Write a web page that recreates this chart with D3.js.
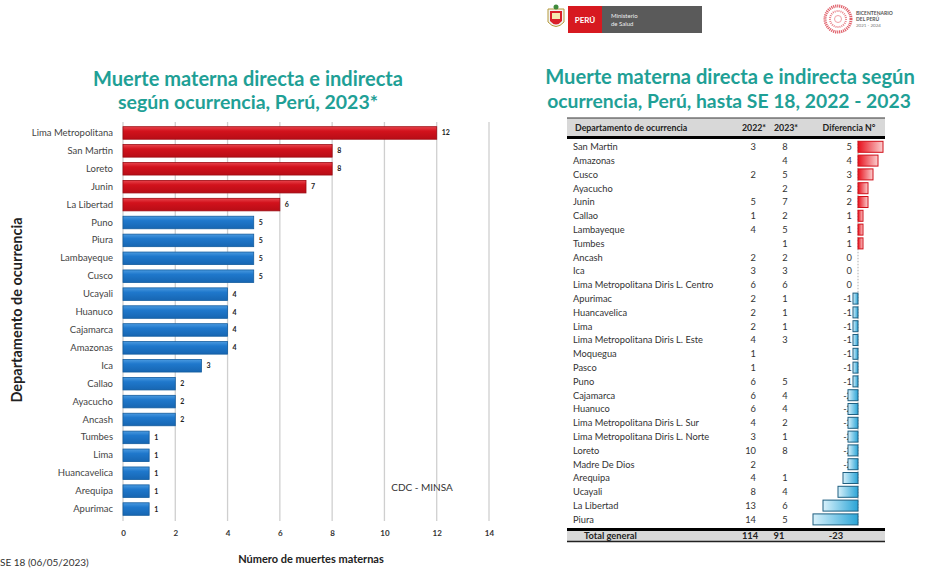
<!DOCTYPE html>
<html>
<head>
<meta charset="utf-8">
<script src="https://cdn.jsdelivr.net/npm/d3@7"></script>
<style>
  html, body { margin: 0; padding: 0; background: #fff; }
  svg { display: block; font-family: Lato, "Open Sans", sans-serif; }
</style>
</head>
<body>
<svg id="chart" width="941" height="570"></svg>
<script>
// ---- Bar chart: deaths by department, 2023 ----
const departments = ["Lima Metropolitana", "San Martin", "Loreto", "Junin", "La Libertad",
  "Puno", "Piura", "Lambayeque", "Cusco", "Ucayali", "Huanuco", "Cajamarca", "Amazonas",
  "Ica", "Callao", "Ayacucho", "Ancash", "Tumbes", "Lima", "Huancavelica", "Arequipa", "Apurimac"];
const deaths2023 = [12, 8, 8, 7, 6, 5, 5, 5, 5, 4, 4, 4, 4, 3, 2, 2, 2, 1, 1, 1, 1, 1];
const xTicks = [0, 2, 4, 6, 8, 10, 12, 14];

// ---- Table: comparison up to epi week 18 ----
const tableDepts = ["San Martin", "Amazonas", "Cusco", "Ayacucho", "Junin", "Callao", "Lambayeque",
  "Tumbes", "Ancash", "Ica", "Lima Metropolitana   Diris L. Centro", "Apurimac", "Huancavelica",
  "Lima", "Lima Metropolitana   Diris L. Este", "Moquegua", "Pasco", "Puno", "Cajamarca", "Huanuco",
  "Lima Metropolitana   Diris L. Sur", "Lima Metropolitana   Diris L. Norte", "Loreto",
  "Madre De Dios", "Arequipa", "Ucayali", "La Libertad", "Piura"];
const cases2022 = [3, null, 2, null, 5, 1, 4, null, 2, 3, 6, 2, 2, 2, 4, 1, 1, 6, 6, 6, 4, 3, 10, 2, 4, 8, 13, 14];
const cases2023 = [8, 4, 5, 2, 7, 2, 5, 1, 2, 3, 6, 1, 1, 1, 3, null, null, 5, 4, 4, 2, 1, 8, null, 1, 4, 6, 5];
const difference = [5, 4, 3, 2, 2, 1, 1, 1, 0, 0, 0, -1, -1, -1, -1, -1, -1, -1, -2, -2, -2, -2, -2, -2, -3, -4, -7, -9];
const totals = { label: "Total general", y2022: 114, y2023: 91, diff: -23 };

const teal = "#1fa096";
const svg = d3.select("#chart");
const defs = svg.append("defs");

function fitText(sel, width) {
  const fs = parseFloat(sel.attr("font-size"));
  const w = sel.node().getComputedTextLength();
  sel.attr("font-size", (fs * width / w).toFixed(2));
}

// gradients for bars
function vGrad(id, top, mid, bot) {
  const g = defs.append("linearGradient").attr("id", id).attr("x1", 0).attr("y1", 0).attr("x2", 0).attr("y2", 1);
  g.append("stop").attr("offset", "0%").attr("stop-color", top);
  g.append("stop").attr("offset", "35%").attr("stop-color", mid);
  g.append("stop").attr("offset", "100%").attr("stop-color", bot);
}
vGrad("redBar", "#e8454d", "#d2121c", "#b80d16");
vGrad("blueBar", "#4a9ae0", "#1f78cc", "#1766b2");

function hGrad(id, from, to, reverse) {
  const g = defs.append("linearGradient").attr("id", id)
    .attr("x1", reverse ? 1 : 0).attr("y1", 0).attr("x2", reverse ? 0 : 1).attr("y2", 0);
  g.append("stop").attr("offset", "0%").attr("stop-color", from);
  g.append("stop").attr("offset", "100%").attr("stop-color", to);
}
hGrad("posBar", "#e8101c", "#fbd0d0", false);
hGrad("negBar", "#2aa4d6", "#d8f1fb", true);

// ================= Left: bar chart =================
const left = svg.append("g");

const t1 = left.append("text").attr("x", 248).attr("y", 86).attr("text-anchor", "middle")
  .attr("font-size", 19).attr("font-weight", 700).attr("fill", teal)
  .text("Muerte materna  directa e indirecta");
fitText(t1, 310);
const t2 = left.append("text").attr("x", 248).attr("y", 109).attr("text-anchor", "middle")
  .attr("font-size", 19).attr("font-weight", 700).attr("fill", teal)
  .text("según ocurrencia, Perú, 2023*");
fitText(t2, 260);

const x = d3.scaleLinear().domain([0, 14]).range([123, 489]);
const y = d3.scaleBand().domain(departments).range([124, 518]).paddingInner(0.3).paddingOuter(0.15);

// vertical gridlines
left.append("g").selectAll("line").data(xTicks).join("line")
  .attr("x1", d => x(d)).attr("x2", d => x(d))
  .attr("y1", 122).attr("y2", 521)
  .attr("stroke", "#cfcfcf").attr("stroke-width", 1.3);

// x axis tick labels
const xAxis = d3.axisBottom(x).tickValues(xTicks).tickSize(0).tickPadding(0);
left.append("g").attr("transform", "translate(0,530)").call(xAxis)
  .call(g => g.select(".domain").remove())
  .call(g => g.selectAll("text").attr("font-family", "Lato, sans-serif").attr("font-size", 8)
    .attr("font-weight", 700).attr("fill", "#333"));

// category labels
const yAxis = d3.axisLeft(y).tickSize(0).tickPadding(0);
left.append("g").attr("transform", "translate(113,0)").call(yAxis)
  .call(g => g.select(".domain").remove())
  .call(g => g.selectAll("text").attr("font-family", "Lato, sans-serif").attr("font-size", 9.5)
    .attr("fill", "#444"));

const rows = departments.map((d, i) => ({ name: d, value: deaths2023[i] }));

left.append("g").selectAll("rect").data(rows).join("rect")
  .attr("x", x(0)).attr("y", d => y(d.name))
  .attr("width", d => x(d.value) - x(0)).attr("height", y.bandwidth())
  .attr("fill", d => d.value >= 6 ? "url(#redBar)" : "url(#blueBar)")
  .attr("stroke", d => d.value >= 6 ? "#9c0a12" : "#135c9e").attr("stroke-width", 0.8);

left.append("g").selectAll("text").data(rows).join("text")
  .attr("x", d => x(d.value) + 5).attr("y", d => y(d.name) + y.bandwidth() / 2 + 2.5)
  .attr("font-size", 7).attr("font-weight", 700).attr("fill", "#222")
  .text(d => d.value);

left.append("text").attr("x", 422).attr("y", 491).attr("text-anchor", "middle")
  .attr("font-size", 10).attr("fill", "#333").text("CDC -  MINSA");

left.append("text").attr("transform", "translate(22,310) rotate(-90)").attr("text-anchor", "middle")
  .attr("font-size", 14.5).attr("font-weight", 700).attr("fill", "#222")
  .text("Departamento de ocurrencia");

left.append("text").attr("x", 311).attr("y", 563).attr("text-anchor", "middle")
  .attr("font-size", 11).attr("font-weight", 700).attr("fill", "#222")
  .text("Número de muertes maternas");

left.append("text").attr("x", 0).attr("y", 566)
  .attr("font-size", 10).attr("fill", "#333").text("SE 18 (06/05/2023)");

// ================= Right: logos =================
const logo = svg.append("g");
// coat of arms
logo.append("path").attr("d", "M548,9 L564,9 L564,22 Q556,31 548,22 Z").attr("fill", "#f2f2f2").attr("stroke", "#b59a3a").attr("stroke-width", 1);
logo.append("path").attr("d", "M550,11 L562,11 L562,21 Q556,28 550,21 Z").attr("fill", "#d9202a");
logo.append("rect").attr("x", 552).attr("y", 13).attr("width", 8).attr("height", 6).attr("fill", "#f5e9b0");
logo.append("circle").attr("cx", 556).attr("cy", 7).attr("r", 2.5).attr("fill", "#3f8a3b");
logo.append("rect").attr("x", 568).attr("y", 6).attr("width", 34).attr("height", 27).attr("fill", "#d71920");
logo.append("text").attr("x", 585).attr("y", 23).attr("text-anchor", "middle")
  .attr("font-size", 8).attr("font-weight", 700).attr("fill", "#fff").text("PERÚ");
logo.append("rect").attr("x", 602).attr("y", 6).attr("width", 100).attr("height", 27).attr("fill", "#5a5a5a");
logo.append("text").attr("x", 611).attr("y", 18).attr("font-size", 6).attr("fill", "#eee").text("Ministerio");
logo.append("text").attr("x", 611).attr("y", 26).attr("font-size", 6).attr("fill", "#eee").text("de Salud");

// bicentennial emblem
const bc = logo.append("g").attr("transform", "translate(838,19)");
bc.append("circle").attr("r", 13).attr("fill", "none").attr("stroke", "#e0606a").attr("stroke-width", 3).attr("stroke-dasharray", "1.2 0.8");
bc.append("circle").attr("r", 8).attr("fill", "none").attr("stroke", "#e88088").attr("stroke-width", 2).attr("stroke-dasharray", "1 1");
bc.append("circle").attr("r", 3.5).attr("fill", "#fff").attr("stroke", "#f0a0a6").attr("stroke-width", 1);
logo.append("text").attr("x", 856).attr("y", 15).attr("font-size", 5).attr("font-weight", 700).attr("fill", "#555").text("BICENTENARIO");
logo.append("text").attr("x", 856).attr("y", 21).attr("font-size", 5).attr("font-weight", 700).attr("fill", "#555").text("DEL PERÚ");
logo.append("text").attr("x", 856).attr("y", 27).attr("font-size", 4.5).attr("fill", "#777").text("2021 - 2024");

// ================= Right: title =================
const r1 = svg.append("text").attr("x", 730).attr("y", 84).attr("text-anchor", "middle")
  .attr("font-size", 19).attr("font-weight", 700).attr("fill", teal)
  .text("Muerte materna  directa e indirecta según");
fitText(r1, 370);
const r2 = svg.append("text").attr("x", 729).attr("y", 108).attr("text-anchor", "middle")
  .attr("font-size", 19).attr("font-weight", 700).attr("fill", teal)
  .text("ocurrencia, Perú, hasta SE 18, 2022 - 2023");
fitText(r2, 364);

// ================= Right: table =================
const tbl = svg.append("g");
const tx0 = 567, tx1 = 885;
const colName = 573, col2022 = 756, col2023 = 785, colDiff = 852;
const firstRow = 146.8, rowStep = 13.8;
const lastRow = firstRow + rowStep * (tableDepts.length - 1);
const dx = d3.scaleLinear().domain([0, 1]).range([858, 863]); // data bar scale

tbl.append("rect").attr("x", tx0).attr("y", 118).attr("width", tx1 - tx0).attr("height", 18).attr("fill", "#d8d8d8");
tbl.append("line").attr("x1", tx0).attr("x2", tx1).attr("y1", 118).attr("y2", 118).attr("stroke", "#333").attr("stroke-width", 1);
tbl.append("line").attr("x1", tx0).attr("x2", tx1).attr("y1", 137.5).attr("y2", 137.5).attr("stroke", "#000").attr("stroke-width", 3);

const hdr = tbl.append("g").attr("font-size", 8.8).attr("font-weight", 700).attr("fill", "#222");
hdr.append("text").attr("x", colName + 2).attr("y", 130.5).text("Departamento de ocurrencia");
hdr.append("text").attr("x", col2022 - 2).attr("y", 130.5).attr("text-anchor", "middle").text("2022*");
hdr.append("text").attr("x", col2023 + 1).attr("y", 130.5).attr("text-anchor", "middle").text("2023*");
hdr.append("text").attr("x", 849).attr("y", 130.5).attr("text-anchor", "middle").text("Diferencia N°");

const tRows = tableDepts.map((d, i) => ({ name: d, a: cases2022[i], b: cases2023[i], diff: difference[i], cy: firstRow + i * rowStep }));

// dashed zero axis of the data bars
tbl.append("line").attr("x1", dx(0)).attr("x2", dx(0)).attr("y1", firstRow - 6).attr("y2", lastRow + 6)
  .attr("stroke", "#999").attr("stroke-width", 0.8).attr("stroke-dasharray", "1.5 1.5");

const body = tbl.append("g").attr("font-size", 9.3).attr("fill", "#333");
body.selectAll(".nm").data(tRows).join("text").attr("class", "nm")
  .attr("x", colName).attr("y", d => d.cy + 3.3).text(d => d.name);
body.selectAll(".a").data(tRows.filter(d => d.a !== null)).join("text").attr("class", "a")
  .attr("x", col2022).attr("y", d => d.cy + 3.3).attr("text-anchor", "end").text(d => d.a);
body.selectAll(".b").data(tRows.filter(d => d.b !== null)).join("text").attr("class", "b")
  .attr("x", col2023).attr("y", d => d.cy + 3.3).attr("text-anchor", "middle").text(d => d.b);
body.selectAll(".d").data(tRows).join("text").attr("class", "d")
  .attr("x", colDiff).attr("y", d => d.cy + 3.3).attr("text-anchor", "end").text(d => d.diff);

tbl.append("g").selectAll("rect").data(tRows.filter(d => d.diff !== 0)).join("rect")
  .attr("x", d => Math.min(dx(0), dx(d.diff)))
  .attr("y", d => d.cy - 5.5).attr("height", 11)
  .attr("width", d => Math.abs(dx(d.diff) - dx(0)))
  .attr("fill", d => d.diff > 0 ? "url(#posBar)" : "url(#negBar)")
  .attr("stroke", d => d.diff > 0 ? "#d0101a" : "#1f5f80").attr("stroke-width", 1);

// totals row
const ty = 529.5;
tbl.append("rect").attr("x", tx0).attr("y", ty).attr("width", tx1 - tx0).attr("height", 12).attr("fill", "#d8d8d8");
tbl.append("line").attr("x1", tx0).attr("x2", tx1).attr("y1", ty).attr("y2", ty).attr("stroke", "#000").attr("stroke-width", 3);
tbl.append("line").attr("x1", tx0).attr("x2", tx1).attr("y1", ty + 12).attr("y2", ty + 12).attr("stroke", "#222").attr("stroke-width", 1.5);
const tot = tbl.append("g").attr("font-size", 9.3).attr("font-weight", 700).attr("fill", "#222");
tot.append("text").attr("x", 584).attr("y", ty + 9.5).text(totals.label);
tot.append("text").attr("x", col2022 - 6).attr("y", ty + 9.5).attr("text-anchor", "middle").text(totals.y2022);
tot.append("text").attr("x", col2023 - 6).attr("y", ty + 9.5).attr("text-anchor", "middle").text(totals.y2023);
tot.append("text").attr("x", 836).attr("y", ty + 9.5).attr("text-anchor", "middle").text(totals.diff);
</script>
</body>
</html>
